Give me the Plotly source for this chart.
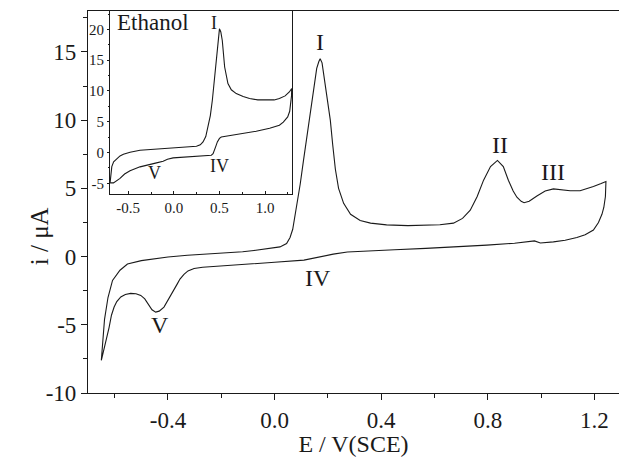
import plotly.graph_objects as go

# Main cyclic voltammogram: anodic (forward) sweep, then cathodic (reverse) sweep
fwd_E = [-0.650, -0.645, -0.638, -0.625, -0.608, -0.580, -0.552, -0.500, -0.452, -0.400,
         -0.327, -0.250, -0.200, -0.120, -0.077, -0.020, 0.020, 0.045, 0.058, 0.068,
         0.075, 0.082, 0.090, 0.096, 0.108, 0.121, 0.135, 0.146, 0.158, 0.166,
         0.171, 0.178, 0.190, 0.200, 0.209, 0.218, 0.228, 0.240, 0.259, 0.285,
         0.321, 0.360, 0.420, 0.500, 0.567, 0.620, 0.671, 0.705, 0.734, 0.760,
         0.784, 0.810, 0.836, 0.858, 0.877, 0.895, 0.909, 0.925, 0.936, 0.955,
         0.984, 1.015, 1.046, 1.075, 1.109, 1.146, 1.175, 1.196, 1.225, 1.243]
fwd_i = [-7.6, -6.0, -4.6, -3.0, -1.75, -1.0, -0.55, -0.30, -0.15, -0.03,
         0.10, 0.18, 0.23, 0.35, 0.45, 0.58, 0.71, 0.95, 1.4, 2.0,
         2.8, 3.8, 4.7, 5.3, 7.0, 8.8, 11.0, 12.5, 13.8, 14.3,
         14.5, 14.2, 12.6, 11.3, 10.0, 8.2, 6.4, 5.0, 3.9, 3.1,
         2.65, 2.45, 2.32, 2.27, 2.28, 2.33, 2.45, 2.8, 3.4, 4.4,
         5.6, 6.6, 7.05, 6.6, 5.6, 4.8, 4.35, 4.05, 3.95, 4.05,
         4.44, 4.8, 4.96, 4.9, 4.83, 4.82, 4.98, 5.13, 5.35, 5.5]

rev_E = [1.243, 1.241, 1.235, 1.228, 1.215, 1.196, 1.165, 1.134, 1.090, 1.046,
         0.997, 0.975, 0.950, 0.900, 0.796, 0.700, 0.567, 0.450, 0.350, 0.273,
         0.220, 0.173, 0.140, 0.110, 0.000, -0.077, -0.200, -0.270, -0.302, -0.325,
         -0.340, -0.355, -0.365, -0.390, -0.415, -0.433, -0.446, -0.460, -0.471, -0.487,
         -0.502, -0.520, -0.540, -0.560, -0.577, -0.592, -0.602, -0.612, -0.621, -0.632,
         -0.643, -0.650]
rev_i = [5.5, 4.4, 3.6, 3.1, 2.5, 1.95, 1.6, 1.4, 1.2, 1.08,
         1.0, 1.15, 1.08, 0.98, 0.84, 0.73, 0.60, 0.50, 0.42, 0.33,
         0.18, -0.02, -0.17, -0.26, -0.42, -0.51, -0.68, -0.78, -0.88, -1.05,
         -1.3, -1.65, -2.0, -2.84, -3.7, -4.0, -4.07, -3.9, -3.6, -3.1,
         -2.85, -2.72, -2.7, -2.78, -2.96, -3.3, -3.7, -4.3, -5.2, -6.2,
         -7.1, -7.6]

# Inset: ethanol voltammogram
eth_fwd_E = [-0.699, -0.692, -0.680, -0.660, -0.626, -0.590, -0.553, -0.480, -0.371, -0.200,
             -0.008, 0.150, 0.248, 0.290, 0.320, 0.350, 0.374, 0.400, 0.422, 0.440,
             0.459, 0.480, 0.495, 0.500, 0.515, 0.531, 0.557, 0.593, 0.630, 0.684,
             0.760, 0.830, 0.920, 1.012, 1.100, 1.157, 1.220, 1.266, 1.292]
eth_fwd_i = [-4.93, -3.6, -2.3, -1.5, -0.98, -0.55, -0.28, 0.05, 0.37, 0.58,
             0.75, 0.90, 1.02, 1.25, 1.72, 2.6, 4.16, 6.0, 8.5, 11.0,
             13.9, 17.0, 19.3, 20.1, 19.6, 18.2, 13.9, 11.2, 10.2, 9.58,
             9.1, 8.77, 8.55, 8.5, 8.55, 8.77, 9.2, 9.84, 10.4]

eth_rev_E = [1.292, 1.290, 1.284, 1.270, 1.248, 1.200, 1.157, 1.050, 0.903, 0.750,
             0.611, 0.540, 0.520, 0.500, 0.477, 0.460, 0.448, 0.430, 0.411, 0.320,
             0.150, -0.008, -0.070, -0.117, -0.190, -0.280, -0.371, -0.480, -0.540, -0.590,
             -0.630, -0.662, -0.699]
eth_rev_i = [10.4, 9.2, 7.95, 6.7, 5.78, 4.95, 4.43, 3.95, 3.46, 3.12,
             2.81, 2.65, 2.53, 2.3, 1.72, 1.0, 0.37, -0.2, -0.44, -0.55,
             -0.7, -0.87, -1.1, -1.41, -1.68, -1.95, -2.33, -2.98, -3.5, -4.2,
             -4.65, -4.93, -4.93]

# Peak labels (text, potential, current)
main_labels = [("I", 0.171, 15.7), ("II", 0.846, 8.2), ("III", 1.046, 6.2),
               ("IV", 0.163, -1.6), ("V", -0.43, -5.0)]
inset_labels = [("I", 0.437, 21.0), ("IV", 0.502, -2.2), ("V", -0.207, -3.4)]

SERIF = "Liberation Serif, Times New Roman, serif"
INK = "#1a1a1a"

fig = go.Figure()

fig.add_trace(go.Scatter(x=fwd_E + rev_E[1:], y=fwd_i + rev_i[1:], mode="lines",
                         line=dict(color=INK, width=1.1), xaxis="x", yaxis="y",
                         showlegend=False, hoverinfo="skip"))
fig.add_trace(go.Scatter(x=eth_fwd_E + eth_rev_E[1:], y=eth_fwd_i + eth_rev_i[1:],
                         mode="lines", line=dict(color=INK, width=1.1),
                         xaxis="x2", yaxis="y2", showlegend=False, hoverinfo="skip"))

annotations = []
for txt, e, cur in main_labels:
    annotations.append(dict(x=e, y=cur, xref="x", yref="y", text=txt, showarrow=False,
                            font=dict(family=SERIF, size=24, color=INK)))
for txt, e, cur in inset_labels:
    annotations.append(dict(x=e, y=cur, xref="x2", yref="y2", text=txt, showarrow=False,
                            font=dict(family=SERIF, size=18, color=INK)))
annotations.append(dict(x=-0.64, y=21.1, xref="x2", yref="y2", text="Ethanol",
                        showarrow=False, xanchor="left",
                        font=dict(family=SERIF, size=23, color=INK)))
annotations.append(dict(x=-0.090, y=0.411, xref="paper", yref="paper", text="i / μA",
                        showarrow=False, textangle=-90, xanchor="center", yanchor="middle",
                        font=dict(family=SERIF, size=25, color=INK)))

fig.update_layout(
    width=619, height=457,
    margin=dict(l=88, r=0, t=11, b=64),
    paper_bgcolor="white", plot_bgcolor="white",
    font=dict(family=SERIF, color=INK),
    annotations=annotations,
    xaxis=dict(range=[-0.7, 1.292], tickmode="array",
               tickvals=[-0.4, 0.0, 0.4, 0.8, 1.2],
               ticktext=["-0.4", "0.0", "0.4", "0.8", "1.2"],
               ticks="outside", ticklen=6, tickwidth=1, tickcolor=INK,
               minor=dict(dtick=0.2, tick0=0, ticks="outside", ticklen=4, tickcolor=INK),
               showline=True, linecolor=INK, linewidth=1.2, mirror=True,
               showgrid=False, zeroline=False,
               tickfont=dict(family=SERIF, size=23, color=INK),
               title=dict(text="E / V(SCE)", font=dict(family=SERIF, size=24, color=INK),
                          standoff=2)),
    yaxis=dict(range=[-10, 18], tickmode="array",
               tickvals=[-10, -5, 0, 5, 10, 15],
               ticktext=["-10", "-5", "0", "5", "10", "15"],
               ticks="outside", ticklen=6, tickwidth=1, tickcolor=INK,
               minor=dict(dtick=2.5, tick0=0, ticks="outside", ticklen=4, tickcolor=INK),
               showline=True, linecolor=INK, linewidth=1.2,
               showgrid=False, zeroline=False,
               tickfont=dict(family=SERIF, size=23, color=INK)),
    xaxis2=dict(domain=[0.0414, 0.385], anchor="y2", range=[-0.7, 1.3],
                tickmode="array", tickvals=[-0.5, 0.0, 0.5, 1.0],
                ticktext=["-0.5", "0.0", "0.5", "1.0"],
                ticks="inside", ticklen=3, tickcolor=INK,
                minor=dict(dtick=0.25, tick0=0, ticks="inside", ticklen=2, tickcolor=INK),
                showline=True, linecolor=INK, linewidth=1, mirror=True,
                showgrid=False, zeroline=False,
                tickfont=dict(family=SERIF, size=15, color=INK)),
    yaxis2=dict(domain=[0.52, 1.0], anchor="x2", range=[-6.8, 23],
                tickmode="array", tickvals=[-5, 0, 5, 10, 15, 20],
                ticktext=["-5", "0", "5", "10", "15", "20"],
                ticks="outside", ticklen=2, tickcolor=INK,
                minor=dict(dtick=2.5, tick0=0, ticks="outside", ticklen=1, tickcolor=INK),
                showline=True, linecolor=INK, linewidth=1, mirror=True,
                showgrid=False, zeroline=False,
                tickfont=dict(family=SERIF, size=15, color=INK)),
)

fig.write_html("out.html")
